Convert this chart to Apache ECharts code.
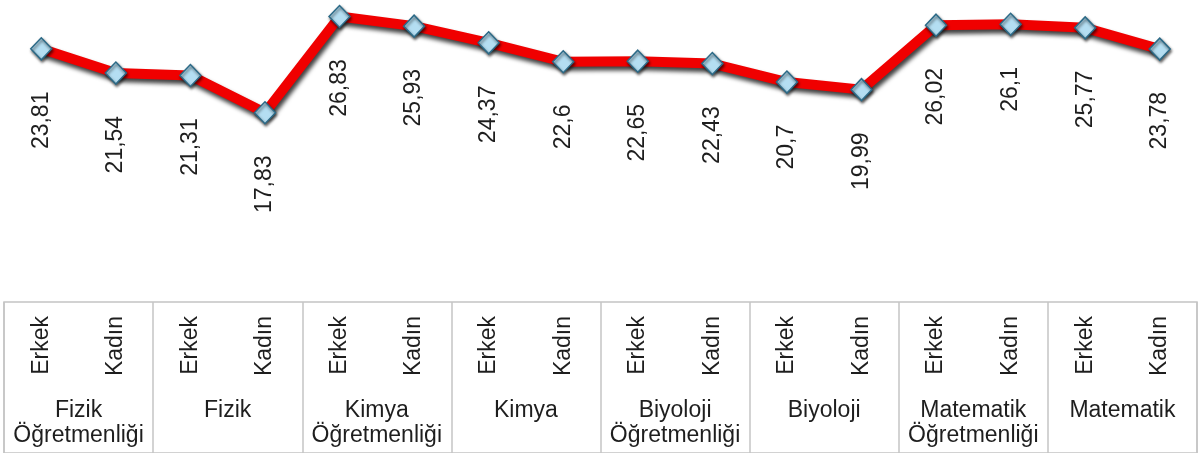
<!DOCTYPE html>
<html>
<head>
<meta charset="utf-8">
<script src="https://cdn.jsdelivr.net/npm/echarts@6/dist/echarts.min.js"></script>
<style>
  html, body { margin: 0; padding: 0; background: #fff; }
  #chart { width: 1198px; height: 453px; }
</style>
</head>
<body>
<div id="chart"></div>
<script>
// alt kategoriler (cinsiyet) ve gruplar
let genders = ['Erkek', 'Kadın', 'Erkek', 'Kadın', 'Erkek', 'Kadın', 'Erkek', 'Kadın',
               'Erkek', 'Kadın', 'Erkek', 'Kadın', 'Erkek', 'Kadın', 'Erkek', 'Kadın'];
let groups = ['Fizik\nÖğretmenliği', 'Fizik', 'Kimya\nÖğretmenliği', 'Kimya',
              'Biyoloji\nÖğretmenliği', 'Biyoloji', 'Matematik\nÖğretmenliği', 'Matematik'];
let values = [23.81, 21.54, 21.31, 17.83, 26.83, 25.93, 24.37, 22.6,
              22.65, 22.43, 20.7, 19.99, 26.02, 26.1, 25.77, 23.78];

let textFont = 'Liberation Sans, Arial, sans-serif';

let myChart = echarts.init(document.getElementById('chart'));
myChart.setOption({
  backgroundColor: '#ffffff',
  animation: false,
  grid: [
    // çizgi
    { left: 4, right: 1, top: 4, height: 139 },
    // tablo: cinsiyet etiketleri
    { left: 4, right: 1, top: 302, height: 200 },
    // tablo: grup etiketleri + çerçeve
    { left: 4, right: 1, top: 302, height: 200, show: true,
      borderColor: '#c4c4c4', borderWidth: 1.5, backgroundColor: 'transparent' }
  ],
  xAxis: [
    { gridIndex: 0, type: 'category', data: genders, show: false, boundaryGap: true },
    {
      gridIndex: 1, type: 'category', data: genders, position: 'top', boundaryGap: true,
      axisLine: { show: false }, axisTick: { show: false }, splitLine: { show: false },
      axisLabel: {
        inside: true, rotate: 90, margin: 14, interval: 0,
        fontFamily: textFont, fontSize: 23, color: '#1e1e1e'
      }
    },
    {
      gridIndex: 2, type: 'category', data: groups, position: 'top', boundaryGap: true,
      axisLine: { show: false }, axisTick: { show: false },
      splitLine: { show: true, lineStyle: { color: '#c4c4c4', width: 1.5 } },
      axisLabel: {
        inside: true, margin: 96, interval: 0, lineHeight: 25, align: 'center',
        fontFamily: textFont, fontSize: 23, color: '#1e1e1e'
      }
    }
  ],
  yAxis: [
    { gridIndex: 0, type: 'value', min: 15, max: 28, show: false },
    { gridIndex: 1, type: 'value', show: false },
    { gridIndex: 2, type: 'value', show: false }
  ],
  series: [{
    type: 'line',
    xAxisIndex: 0,
    yAxisIndex: 0,
    data: values,
    symbol: 'diamond',
    symbolSize: [21, 22],
    lineStyle: {
      color: '#f00000', width: 10,
      shadowColor: 'rgba(0,0,0,0.75)', shadowBlur: 4, shadowOffsetX: 2, shadowOffsetY: 4
    },
    itemStyle: {
      color: '#b4def2', borderColor: '#2c6a87', borderWidth: 1.5,
      shadowColor: 'rgba(0,0,0,0.6)', shadowBlur: 3, shadowOffsetX: 1, shadowOffsetY: 2
    },
    label: {
      show: true,
      position: 'bottom',
      distance: 31,
      rotate: 90,
      align: 'right',
      verticalAlign: 'middle',
      fontFamily: textFont,
      fontSize: 23,
      color: '#1e1e1e',
      formatter: function (p) {
        return String(p.value).replace('.', ',');
      }
    },
    z: 5
  }]
});
</script>
</body>
</html>
